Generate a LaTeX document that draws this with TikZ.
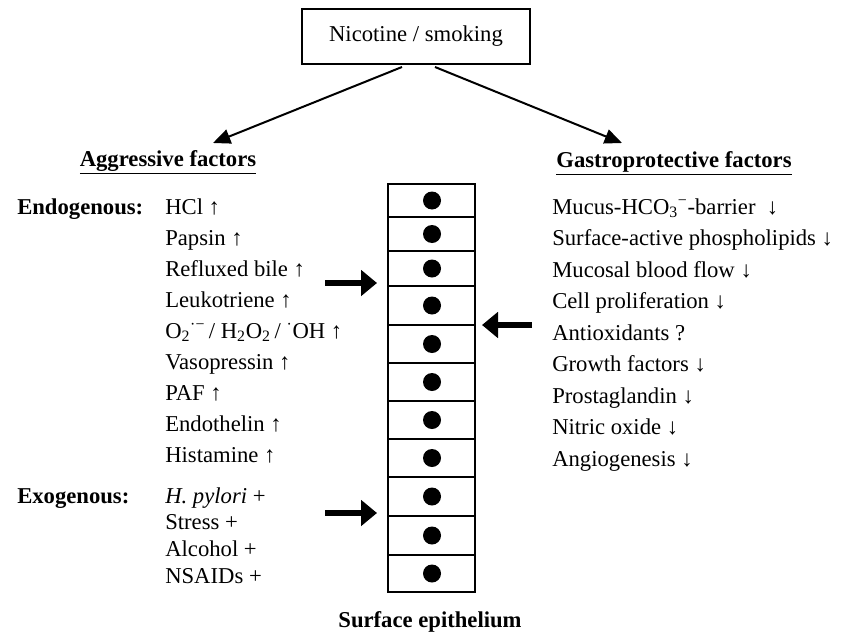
\documentclass[tikz,border=0pt]{standalone}
\usepackage{fontspec}
\setmainfont{Liberation Serif}
\usetikzlibrary{arrows.meta}

\tikzset{
	txt/.style={anchor=base west, inner sep=0pt, font=\fontsize{17}{20}\selectfont},
	bold/.style={inner sep=0pt, font=\fontsize{17}{20}\selectfont\bfseries},
	toparrow/.style={line width=1.5pt, -{Triangle[length=13pt,width=11pt]}},
	bigarrow/.style={line width=4pt, -{Triangle[length=12pt,width=19pt]}},
	cell/.style={draw, line width=1.1pt},
	nucleus/.style={circle, fill, inner sep=0pt, minimum size=13.5pt}
}

\begin{document}
\begin{tikzpicture}[x=0.75pt,y=-0.75pt]
		\useasboundingbox (0,0) rectangle (849,639);
		
		\node[draw, line width=1.2pt, inner sep=0pt, minimum width=171pt, minimum height=41pt,
		font=\fontsize{17}{20}\selectfont] (nic) at (416,36.5) {Nicotine / smoking};
		
		\node[bold] (agg) at (168,162) {\underline{Aggressive factors}};
		\node[bold] (gas) at (674,163) {\underline{Gastroprotective factors}};
		
		\coordinate (nicL) at (402,67);
		\coordinate (nicR) at (435,67);
		\coordinate (aggTip) at (213,143);
		\coordinate (gasTip) at (622,143);
		\draw[toparrow] (nicL) -- (aggTip);
		\draw[toparrow] (nicR) -- (gasTip);
		
		\node[bold, anchor=base west] (endo) at (17,214) {Endogenous:};
		\node[bold, anchor=base west] (exo) at (17,503) {Exogenous:};
		
		\foreach \t[count=\i] in {HCl ↑, Papsin ↑, Refluxed bile ↑, Leukotriene ↑,
			{O\textsubscript{2}\textsuperscript{·−}\,/ H\textsubscript{2}O\textsubscript{2}\,/ \textsuperscript{·}OH ↑},
			Vasopressin ↑, PAF ↑, Endothelin ↑, Histamine ↑}{
			\node[txt] (en\i) at (165,{214+31*(\i-1)}) {\t};
		}
		
		\foreach \t[count=\i] in {{\textit{H. pylori} +}, Stress +, Alcohol +, NSAIDs +}{
			\node[txt] (ex\i) at (165,{503+26.7*(\i-1)}) {\t};
		}
		
		\foreach \t[count=\i] in {{Mucus-HCO\textsubscript{3}\textsuperscript{−}-barrier\enspace↓},
			Surface-active phospholipids ↓, Mucosal blood flow ↓, Cell proliferation ↓,
			Antioxidants ?, Growth factors ↓, Prostaglandin ↓, Nitric oxide ↓, Angiogenesis ↓}{
			\node[txt] (gp\i) at (552,{214+31.5*(\i-1)}) {\t};
		}
		
		% surface epithelium
		\foreach \t/\b[count=\i] in {184/217,217/251,251/286,286/325,325/363,363/401,
			401/439,439/477,477/516,516/555,555/592}{
			\draw[cell] (388,\t) rectangle (475,\b);
			\node[nucleus] (n\i) at (432,{(\t+\b)/2}) {};
		}
		\node[bold] (epi) at (430,622) {Surface epithelium};
		
		\coordinate (endoArr) at (325,283);
		\coordinate (endoTip) at (377,283);
		\coordinate (exoArr) at (325,513);
		\coordinate (exoTip) at (377,513);
		\coordinate (gpArr) at (532,325);
		\coordinate (gpTip) at (482,325);
		\draw[bigarrow] (endoArr) -- (endoTip);
		\draw[bigarrow] (exoArr) -- (exoTip);
		\draw[bigarrow] (gpArr) -- (gpTip);
\end{tikzpicture}
\end{document}
